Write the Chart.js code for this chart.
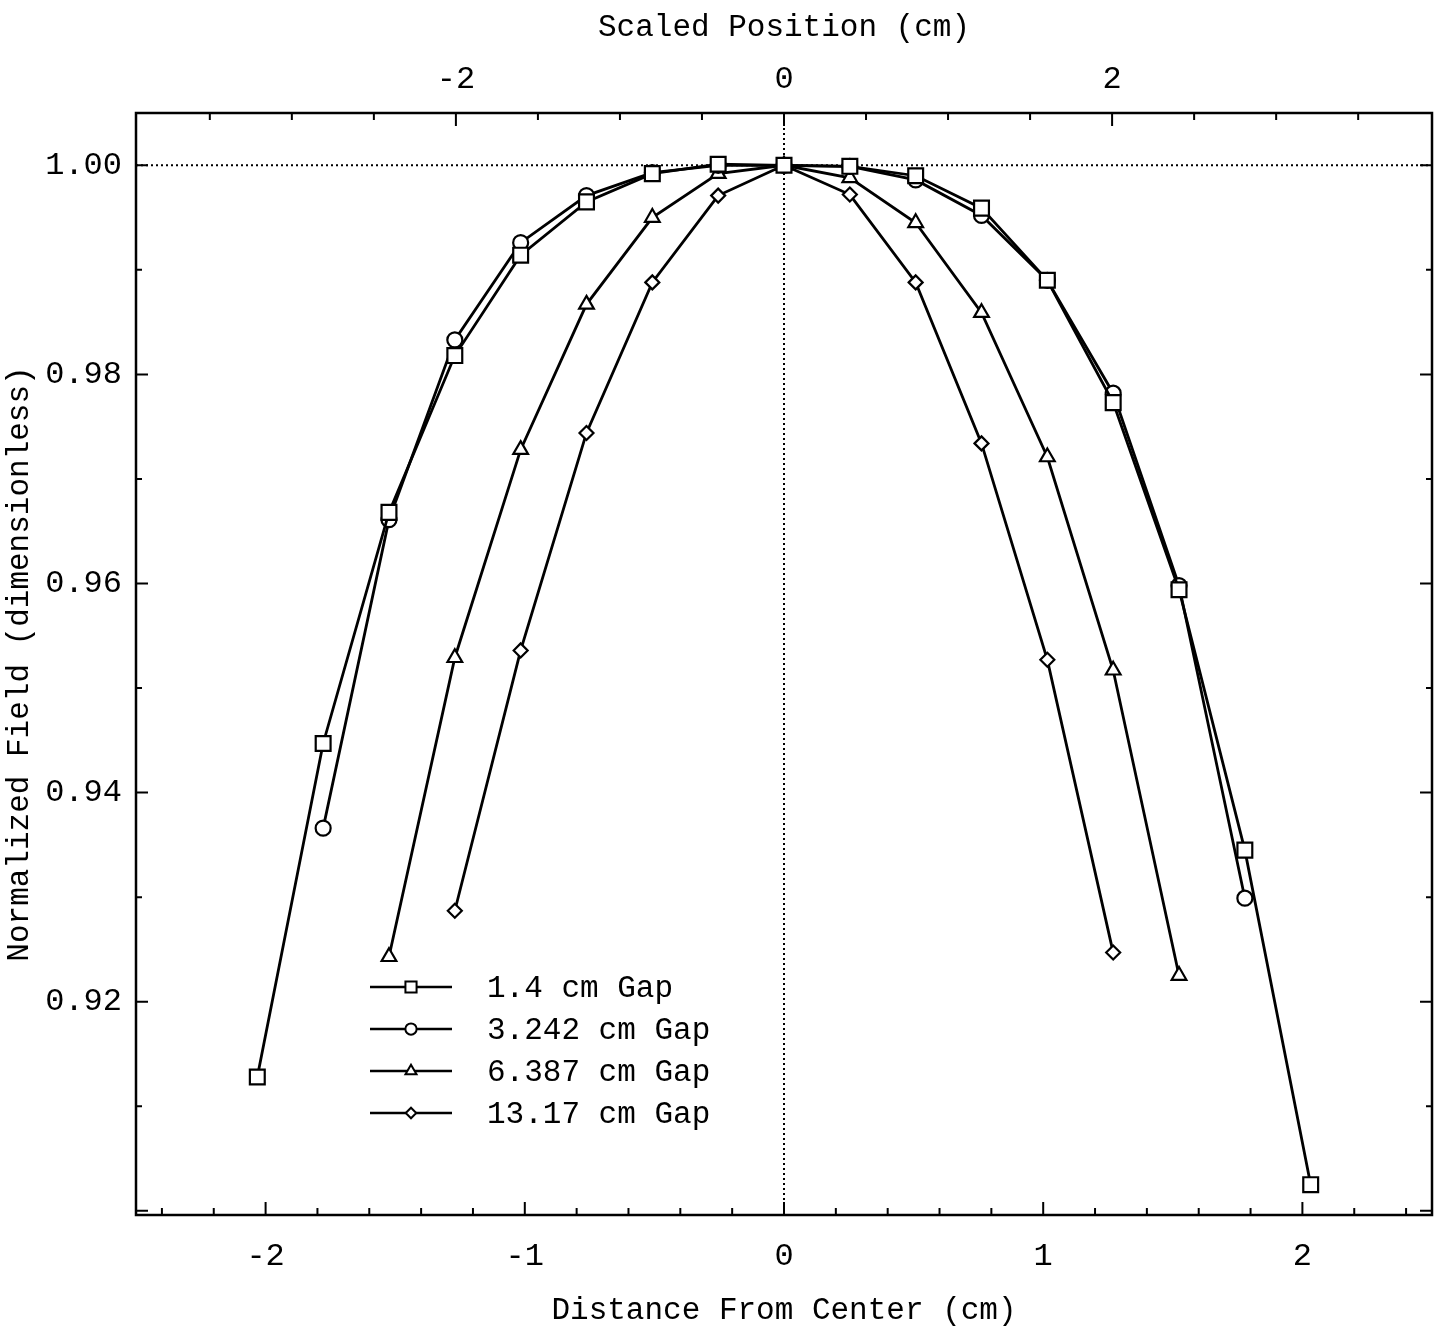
<!DOCTYPE html>
<html>
<head>
<meta charset="utf-8">
<title>Normalized Field vs Distance From Center</title>
<script src="https://cdn.jsdelivr.net/npm/chart.js@4.4.1/dist/chart.umd.min.js"></script>
<style>
  body { margin: 0; background: #fff; }
  canvas { display: block; }
</style>
</head>
<body>
<canvas id="fieldChart" width="1447" height="1330"></canvas>
<script>
// probe positions (cm), 0.254 cm apart
const positions = [-2.032, -1.778, -1.524, -1.27, -1.016, -0.762, -0.508, -0.254, 0,
                   0.254, 0.508, 0.762, 1.016, 1.27, 1.524, 1.778, 2.032];

const gapLabels = ['1.4 cm Gap', '3.242 cm Gap', '6.387 cm Gap', '13.17 cm Gap'];

// normalized field at each position, null where the gap was not measured
const gap14   = [0.9128, 0.9447, 0.9668, 0.9818, 0.9914, 0.9965, 0.9992, 1.0001, 1.0000,
                 0.9999, 0.9990, 0.9959, 0.9890, 0.9773, 0.9594, 0.9345, 0.9025];
const gap3242 = [null, 0.9366, 0.9661, 0.9833, 0.9926, 0.9971, 0.9993, 1.0000, 1.0000,
                 0.9999, 0.9986, 0.9952, 0.9890, 0.9782, 0.9598, 0.9299, null];
const gap6387 = [null, null, 0.9243, 0.9529, 0.9728, 0.9867, 0.9950, 0.9992, 1.0000,
                 0.9988, 0.9945, 0.9859, 0.9721, 0.9517, 0.9225, null, null];
const gap1317 = [null, null, null, 0.9287, 0.9536, 0.9744, 0.9888, 0.9971, 1.0000,
                 0.9972, 0.9888, 0.9734, 0.9527, 0.9247, null, null, null];

const bottomTicks = [-2, -1, 0, 1, 2];
const topTicks = [-2, 0, 2];
const yTicks = [0.92, 0.94, 0.96, 0.98, 1.00];

const pointStyles = ['rect', 'circle', 'triangle', 'rectRot'];
const pointRadii = [10.5, 7.5, 8.5, 7];

Chart.defaults.font.family = '"Liberation Mono", "DejaVu Sans Mono", monospace';
Chart.defaults.color = '#000';

function series(values) {
  return positions.map((x, i) => ({ x: x, y: values[i] })).filter(p => p.y !== null);
}

const datasets = [gap14, gap3242, gap6387, gap1317].map((vals, i) => ({
  label: gapLabels[i],
  data: series(vals),
  borderColor: '#000',
  borderWidth: 2.8,
  pointStyle: pointStyles[i],
  pointRadius: pointRadii[i],
  pointBorderWidth: 2.2,
  pointBorderColor: '#000',
  pointBackgroundColor: '#fff',
  tension: 0
}));

// dotted reference lines, boxed frame with inward ticks, and the key
const frameTicks = {
  id: 'frameTicks',
  beforeDatasetsDraw(chart) {
    const { ctx, chartArea: a, scales } = chart;
    const y1 = scales.y.getPixelForValue(1);
    const x0 = scales.x.getPixelForValue(0);
    ctx.save();
    ctx.strokeStyle = '#000';
    ctx.lineWidth = 2;
    ctx.setLineDash([2, 3]);
    ctx.beginPath();
    ctx.moveTo(a.left, y1); ctx.lineTo(a.right, y1);
    ctx.moveTo(x0, a.top); ctx.lineTo(x0, a.bottom);
    ctx.stroke();
    ctx.restore();
  },
  afterDraw(chart) {
    const { ctx, chartArea: a, scales } = chart;
    ctx.save();
    ctx.strokeStyle = '#000';
    ctx.lineWidth = 2.5;
    ctx.strokeRect(a.left, a.top, a.right - a.left, a.bottom - a.top);

    ctx.lineWidth = 2;
    ctx.beginPath();
    for (let i = -12; i <= 12; i++) {
      const px = scales.x.getPixelForValue(i * 0.2);
      const len = i % 5 === 0 ? 13 : 7;
      ctx.moveTo(px, a.bottom); ctx.lineTo(px, a.bottom - len);
    }
    for (let i = -7; i <= 7; i++) {
      const px = scales.x2.getPixelForValue(i * 0.5);
      const len = i % 4 === 0 ? 13 : 7;
      ctx.moveTo(px, a.top); ctx.lineTo(px, a.top + len);
    }
    for (let i = 90; i <= 100; i++) {
      const py = scales.y.getPixelForValue(i / 100);
      const len = i % 2 === 0 ? 12 : 6;
      ctx.moveTo(a.left, py); ctx.lineTo(a.left + len, py);
      ctx.moveTo(a.right, py); ctx.lineTo(a.right - len, py);
    }
    ctx.stroke();

    // key
    const x1 = 370, x2 = 452, mid = 411, textX = 487;
    ctx.font = '31px "Liberation Mono", "DejaVu Sans Mono", monospace';
    ctx.textBaseline = 'middle';
    chart.data.datasets.forEach((ds, i) => {
      const y = 987 + i * 42;
      ctx.lineWidth = 2.5;
      ctx.beginPath();
      ctx.moveTo(x1, y); ctx.lineTo(x2, y);
      ctx.stroke();
      ctx.fillStyle = '#fff';
      ctx.lineWidth = 2;
      Chart.helpers.drawPoint(ctx, { pointStyle: ds.pointStyle, radius: ds.pointRadius * 0.75, rotation: 0, borderWidth: 2 }, mid, y);
      ctx.fillStyle = '#000';
      ctx.fillText(ds.label, textX, y + 2);
    });
    ctx.restore();
  }
};

new Chart(document.getElementById('fieldChart'), {
  type: 'line',
  data: { datasets: datasets },
  options: {
    responsive: false,
    animation: false,
    devicePixelRatio: 1,
    layout: { padding: { right: 15 } },
    plugins: { legend: { display: false }, tooltip: { enabled: false } },
    scales: {
      x: {
        type: 'linear',
        position: 'bottom',
        min: -2.5,
        max: 2.5,
        afterBuildTicks: s => { s.ticks = bottomTicks.map(v => ({ value: v })); },
        afterFit: s => { s.height = 115; },
        grid: { display: false, drawTicks: false },
        border: { display: false },
        ticks: { font: { size: 32 }, padding: 22, maxRotation: 0, callback: v => String(v) },
        title: { display: true, text: 'Distance From Center (cm)', font: { size: 31 }, padding: { bottom: 1 } }
      },
      x2: {
        type: 'linear',
        position: 'top',
        min: -3.95,
        max: 3.95,
        afterBuildTicks: s => { s.ticks = topTicks.map(v => ({ value: v })); },
        afterFit: s => { s.height = 113; },
        grid: { display: false, drawTicks: false },
        border: { display: false },
        ticks: { font: { size: 32 }, padding: 14, maxRotation: 0, callback: v => String(v) },
        title: { display: true, text: 'Scaled Position (cm)', font: { size: 31 }, padding: { top: 9 } }
      },
      y: {
        type: 'linear',
        min: 0.8996,
        max: 1.005,
        afterBuildTicks: s => { s.ticks = yTicks.map(v => ({ value: v })); },
        afterFit: s => { s.width = 136; },
        grid: { display: false, drawTicks: false },
        border: { display: false },
        ticks: { font: { size: 32 }, padding: 14, callback: v => v.toFixed(2) },
        title: { display: true, text: 'Normalized Field (dimensionless)', font: { size: 31 }, padding: { top: 1 } }
      }
    }
  },
  plugins: [frameTicks]
});
</script>
</body>
</html>
